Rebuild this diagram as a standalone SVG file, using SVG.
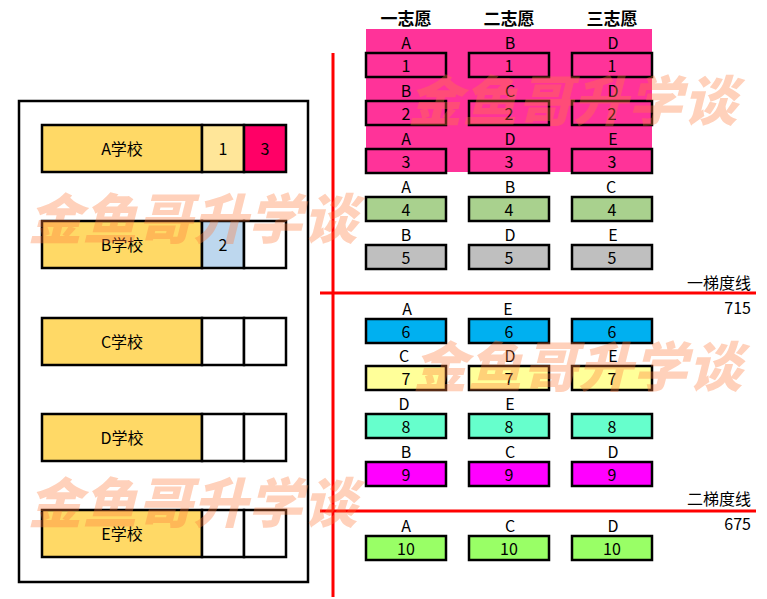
<svg xmlns="http://www.w3.org/2000/svg" width="767" height="599" viewBox="0 0 767 599">
<style>
text{font-family:"Noto Sans CJK SC","Liberation Sans",sans-serif;fill:#000;}
.t{font-size:16px;text-anchor:middle;}
.h{font-size:17px;font-weight:bold;text-anchor:middle;}
.r{font-size:16px;text-anchor:end;}
.b{stroke:#000;stroke-width:2.5;}
.c{stroke:#000;stroke-width:2.5;}
.red{stroke:#FF0000;stroke-width:3;}
.wm{font-family:"Noto Sans CJK SC",sans-serif;font-size:54px;font-weight:900;fill:#FF7A3C;fill-opacity:0.35;font-style:italic;letter-spacing:1px;}
</style>
<rect width="767" height="599" fill="#fff"/>
<g id="panel">
<rect x="19" y="101" width="289" height="481" fill="#fff" stroke="#000" stroke-width="2.5"/>
</g>
<g id="schoolA">
<rect x="42" y="125" width="160" height="47" fill="#FFD966" class="b"/>
<rect x="202" y="125" width="42" height="47" fill="#FFE699" class="b"/>
<rect x="244" y="125" width="42" height="47" fill="#FF0066" class="b"/>
<text x="122" y="155" class="t">A学校</text><text x="223" y="155" class="t">1</text><text x="265" y="155" class="t">3</text>
</g>
<g id="schoolB">
<rect x="42" y="221" width="160" height="47" fill="#FFD966" class="b"/>
<rect x="202" y="221" width="42" height="47" fill="#BDD7EE" class="b"/>
<rect x="244" y="221" width="42" height="47" fill="#fff" class="b"/>
<text x="122" y="251" class="t">B学校</text><text x="223" y="251" class="t">2</text>
</g>
<g id="schoolC">
<rect x="42" y="318" width="160" height="47" fill="#FFD966" class="b"/>
<rect x="202" y="318" width="42" height="47" fill="#fff" class="b"/>
<rect x="244" y="318" width="42" height="47" fill="#fff" class="b"/>
<text x="122" y="348" class="t">C学校</text>
</g>
<g id="schoolD">
<rect x="42" y="414" width="160" height="47" fill="#FFD966" class="b"/>
<rect x="202" y="414" width="42" height="47" fill="#fff" class="b"/>
<rect x="244" y="414" width="42" height="47" fill="#fff" class="b"/>
<text x="122" y="444" class="t">D学校</text>
</g>
<g id="schoolE">
<rect x="42" y="510" width="160" height="47" fill="#FFD966" class="b"/>
<rect x="202" y="510" width="42" height="47" fill="#fff" class="b"/>
<rect x="244" y="510" width="42" height="47" fill="#fff" class="b"/>
<text x="122" y="540" class="t">E学校</text>
</g>
<g id="headers">
<rect x="366" y="29" width="286" height="143" fill="#FF3399"/>
<text x="406" y="25" class="h">一志愿</text>
<text x="509" y="25" class="h">二志愿</text>
<text x="612" y="25" class="h">三志愿</text>
</g>
<g id="students">
<g id="s1"><rect x="366" y="53" width="80" height="24" fill="#FF3399" class="c"/><rect x="469" y="53" width="80" height="24" fill="#FF3399" class="c"/><rect x="572" y="53" width="80" height="24" fill="#FF3399" class="c"/>
<text x="406" y="49" class="t">A</text><text x="510" y="49" class="t">B</text><text x="613" y="49" class="t">D</text>
<text x="406" y="72" class="t">1</text><text x="509" y="72" class="t">1</text><text x="612" y="72" class="t">1</text></g>
<g id="s2"><rect x="366" y="101" width="80" height="24" fill="#FF3399" class="c"/><rect x="469" y="101" width="80" height="24" fill="#FF3399" class="c"/><rect x="572" y="101" width="80" height="24" fill="#FF3399" class="c"/>
<text x="406" y="97" class="t">B</text><text x="510" y="97" class="t">C</text><text x="613" y="97" class="t">D</text>
<text x="406" y="120" class="t">2</text><text x="509" y="120" class="t">2</text><text x="612" y="120" class="t">2</text></g>
<g id="s3"><rect x="366" y="149" width="80" height="24" fill="#FF3399" class="c"/><rect x="469" y="149" width="80" height="24" fill="#FF3399" class="c"/><rect x="572" y="149" width="80" height="24" fill="#FF3399" class="c"/>
<text x="406" y="145" class="t">A</text><text x="510" y="145" class="t">D</text><text x="613" y="145" class="t">E</text>
<text x="406" y="168" class="t">3</text><text x="509" y="168" class="t">3</text><text x="612" y="168" class="t">3</text></g>
<g id="s4"><rect x="366" y="197" width="80" height="24" fill="#A9D18E" class="c"/><rect x="469" y="197" width="80" height="24" fill="#A9D18E" class="c"/><rect x="572" y="197" width="80" height="24" fill="#A9D18E" class="c"/>
<text x="406" y="193" class="t">A</text><text x="510" y="193" class="t">B</text><text x="611" y="193" class="t">C</text>
<text x="406" y="216" class="t">4</text><text x="509" y="216" class="t">4</text><text x="612" y="216" class="t">4</text></g>
<g id="s5"><rect x="366" y="245" width="80" height="24" fill="#BFBFBF" class="c"/><rect x="469" y="245" width="80" height="24" fill="#BFBFBF" class="c"/><rect x="572" y="245" width="80" height="24" fill="#BFBFBF" class="c"/>
<text x="406" y="241" class="t">B</text><text x="510" y="241" class="t">D</text><text x="613" y="241" class="t">E</text>
<text x="406" y="264" class="t">5</text><text x="509" y="264" class="t">5</text><text x="612" y="264" class="t">5</text></g>
<g id="s6"><rect x="366" y="319" width="80" height="24" fill="#00B0F0" class="c"/><rect x="469" y="319" width="80" height="24" fill="#00B0F0" class="c"/><rect x="572" y="319" width="80" height="24" fill="#00B0F0" class="c"/>
<text x="407" y="315" class="t">A</text><text x="508" y="315" class="t">E</text>
<text x="406" y="338" class="t">6</text><text x="509" y="338" class="t">6</text><text x="612" y="338" class="t">6</text></g>
<g id="s7"><rect x="366" y="366" width="80" height="24" fill="#FFFF99" class="c"/><rect x="469" y="366" width="80" height="24" fill="#FFFF99" class="c"/><rect x="572" y="366" width="80" height="24" fill="#FFFF99" class="c"/>
<text x="404" y="362" class="t">C</text><text x="510" y="362" class="t">D</text><text x="613" y="362" class="t">E</text>
<text x="406" y="385" class="t">7</text><text x="509" y="385" class="t">7</text><text x="612" y="385" class="t">7</text></g>
<g id="s8"><rect x="366" y="414" width="80" height="24" fill="#66FFCC" class="c"/><rect x="469" y="414" width="80" height="24" fill="#66FFCC" class="c"/><rect x="572" y="414" width="80" height="24" fill="#66FFCC" class="c"/>
<text x="404" y="410" class="t">D</text><text x="510" y="410" class="t">E</text>
<text x="406" y="433" class="t">8</text><text x="509" y="433" class="t">8</text><text x="612" y="433" class="t">8</text></g>
<g id="s9"><rect x="366" y="462" width="80" height="24" fill="#FF00FF" class="c"/><rect x="469" y="462" width="80" height="24" fill="#FF00FF" class="c"/><rect x="572" y="462" width="80" height="24" fill="#FF00FF" class="c"/>
<text x="406" y="458" class="t">B</text><text x="510" y="458" class="t">C</text><text x="613" y="458" class="t">D</text>
<text x="406" y="481" class="t">9</text><text x="509" y="481" class="t">9</text><text x="612" y="481" class="t">9</text></g>
<g id="s10"><rect x="366" y="536" width="80" height="24" fill="#99FF66" class="c"/><rect x="469" y="536" width="80" height="24" fill="#99FF66" class="c"/><rect x="572" y="536" width="80" height="24" fill="#99FF66" class="c"/>
<text x="406" y="532" class="t">A</text><text x="510" y="532" class="t">C</text><text x="613" y="532" class="t">D</text>
<text x="406" y="555" class="t">10</text><text x="509" y="555" class="t">10</text><text x="612" y="555" class="t">10</text></g>
</g>
<g id="connectors">
<line x1="333" y1="53" x2="333" y2="597" class="red"/>
<line x1="320" y1="293" x2="756" y2="293" class="red"/>
<line x1="320" y1="511" x2="756" y2="511" class="red"/>
</g>
<g id="labels">
<text x="751" y="289" class="r">一梯度线</text>
<text x="751" y="314" class="r">715</text>
<text x="751" y="505" class="r">二梯度线</text>
<text x="751" y="530" class="r">675</text>
</g>
<g id="watermarks">
<text x="28" y="239" class="wm">金鱼哥升学谈</text>
<text x="408" y="121" class="wm">金鱼哥升学谈</text>
<text x="413" y="387" class="wm">金鱼哥升学谈</text>
<text x="28" y="523" class="wm">金鱼哥升学谈</text>
</g>
</svg>
